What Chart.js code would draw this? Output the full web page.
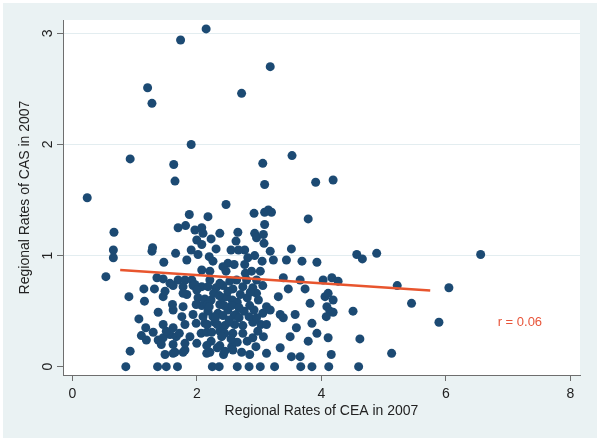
<!DOCTYPE html>
<html><head><meta charset="utf-8">
<script src="https://cdn.jsdelivr.net/npm/chart.js@4.4.0/dist/chart.umd.min.js"></script>
<style>html,body{margin:0;padding:0;background:#fff;}</style>
</head><body>
<canvas id="c" width="601" height="441"></canvas>
<script>
// Regional rates of CEA (x) and CAS (y) in 2007
const ceaRates = [
  2.15,1.74,3.18,1.21,1.28,2.72,1.91,0.93,1.63,1.65,3.06,3.09,3.53,3.91,0.24,4.19,3.15,3.09,3.20,3.79,2.92,2.47,2.18,1.88,0.67,0.66,0.66,0.54,0.91,0.93,1.28,1.29,
  4.57,4.66,4.89,3.93,4.03,4.17,4.27,5.22,4.06,4.11,4.19,3.82,4.09,4.14,4.19,4.08,4.51,3.85,3.93,4.11,4.62,4.16,5.13,6.56,6.05,5.45,5.89,
  0.86,1.37,1.51,1.69,2.25,2.36,2.65,2.84,3.02,3.25,3.67,3.85,4.12,4.60,
  1.15,1.32,1.16,1.38,1.07,1.18,1.11,1.30,1.38,
  1.70,1.82,1.97,2.08,2.00,2.08,2.10,1.66,1.91,2.02,1.47,1.84,2.08,1.46,1.70,1.81,1.92,
  1.62,1.78,1.94,2.08,1.46,1.84,2.02,2.08,1.78,1.62,1.94,1.76,1.46,1.62,1.57,1.46,1.67,1.89,2.07,2.00,1.81,1.62,1.49,1.19,
  3.09,2.37,2.66,2.23,2.63,2.93,2.96,2.31,2.55,2.77,2.20,2.82,2.93,2.26,2.50,2.77,3.05,2.21,2.42,2.47,2.78,2.88,3.02,2.21,2.64,2.80,2.96,
  2.18,2.31,2.42,2.58,2.74,2.90,3.06, 2.13,2.23,2.41,2.57,2.65,2.81,2.99, 2.18,2.34,2.50,2.63,2.76,2.92,3.06, 2.13,2.29,2.45,2.61,2.74,2.90,3.03, 2.16,2.37,2.58,2.74,2.98, 2.23,2.65,2.81, 2.16,2.43,2.72,2.85,
  3.07,3.08,2.67,3.52,3.18,3.23,3.44,3.69,2.60,3.39,3.66,3.74,3.47,2.96,3.12,3.18,3.31,3.34,3.39,3.58,3.12,3.60,3.50,3.07,3.79,3.34,3.12,3.52,3.66,
  1.36,1.57,1.97,2.37,2.53,1.49,1.78,2.00,2.48,1.62,1.81,2.37,2.56,1.51,2.10,2.26,2.42,1.99,2.37,2.56,1.81,1.99,2.52,
  1.72,2.24,2.45,1.43,2.16,1.65,1.78,2.21,2.45,2.60,1.61,2.17,2.17,2.33,
  2.27,2.36,2.50,2.70,2.86,2.20,2.44,2.68,2.85,2.30,2.52,2.68,2.84,2.96,2.40,2.55,2.90,2.33,2.58,2.95
];
const casRates = [
  3.04,2.94,2.70,2.51,2.37,2.46,2.00,1.87,1.82,1.67,1.83,1.64,1.90,1.66,1.52,1.68,1.41,1.39,1.39,1.33,1.38,1.46,1.35,1.37,1.21,1.05,0.98,0.81,0.63,0.14,1.04,1.07,
  1.01,0.97,1.02,0.94,0.78,0.80,0.77,0.73,0.63,0.66,0.60,0.57,0.54,0.50,0.49,0.45,0.50,0.39,0.30,0.26,0.25,0.11,0.12,1.01,0.71,0.57,0.40,
  0,0,0,0,0,0,0,0,0,0,0,0,0,0,
  0.70,0.70,0.59,0.49,0.43,0.35,0.28,0.31,0.24,
  1.25,1.27,1.23,1.25,1.14,1.10,1.20,1.02,1.05,1.01,0.94,0.96,0.87,0.79,0.78,0.78,0.78,
  0.73,0.72,0.73,0.72,0.63,0.65,0.62,0.55,0.54,0.51,0.47,0.45,0.38,0.35,0.29,0.26,0.27,0.27,0.30,0.21,0.15,0.12,0.11,0.24,
  1.28,1.20,1.21,1.15,1.13,1.20,1.16,1.06,1.05,1.05,0.99,0.98,1.00,0.95,0.93,0.92,0.95,0.86,0.90,0.86,0.84,0.86,0.86,0.78,0.78,0.78,0.78,
  0.72,0.71,0.73,0.70,0.72,0.71,0.73, 0.61,0.60,0.62,0.60,0.58,0.62,0.60, 0.50,0.48,0.51,0.47,0.50,0.51,0.48, 0.39,0.40,0.37,0.38,0.37,0.40,0.38, 0.31,0.32,0.30,0.30,0.32, 0.23,0.22,0.23, 0.12,0.11,0.13,0.11,
  1.19,1.11,1.05,1.06,1.04,0.96,0.96,0.95,0.92,0.80,0.78,0.70,0.70,0.66,0.54,0.51,0.63,0.47,0.44,0.47,0.38,0.35,0.27,0.27,0.23,0.17,0.12,0.09,0.09,
  0.80,0.75,0.74,0.75,0.77,0.68,0.66,0.69,0.63,0.20,0.21,0.19,0.18,0.32,0.45,0.45,0.46,0.56,0.56,0.55,0.38,0.39,0.40,
  0.30,0.31,0.30,0.20,0.19,0.13,0.13,0.13,0.14,0.46,0.56,0.56,0.38,0.38,
  0.66,0.64,0.68,0.65,0.67,0.54,0.55,0.53,0.55,0.44,0.42,0.44,0.45,0.44,0.27,0.25,0.26,0.17,0.15,0.18
];
// fitted line end points
const fitX = [0.77, 5.75];
const fitY = [0.87, 0.685];
const xTicks = [0, 2, 4, 6, 8];
const yTicks = [0, 1, 2, 3];
const xTitle = 'Regional Rates of CEA in 2007';
const yTitle = 'Regional Rates of CAS in 2007';
const corrLabel = 'r = 0.06';
const corrAt = [7.19, 0.40];

const FONT = "'Liberation Sans', Arial, Helvetica, sans-serif";
const scatterData = ceaRates.map((x, i) => ({x: x, y: casRates[i]}));
const fitData = fitX.map((x, i) => ({x: x, y: fitY[i]}));

const bgPlugin = {
  id: 'bg',
  beforeDraw(chart) {
    const {ctx, chartArea: a} = chart;
    ctx.save();
    ctx.fillStyle = '#ffffff';
    ctx.fillRect(0, 0, chart.width, chart.height);
    ctx.fillStyle = '#eaf2f3';
    ctx.fillRect(3, 3, chart.width - 7, chart.height - 6);
    ctx.fillStyle = '#ffffff';
    ctx.fillRect(a.left, a.top, a.right - a.left, a.bottom - a.top);
    ctx.restore();
  }
};
const corrPlugin = {
  id: 'corr',
  afterDatasetsDraw(chart) {
    const {ctx, scales} = chart;
    ctx.save();
    ctx.fillStyle = '#e8553a';
    ctx.font = '13px ' + FONT;
    ctx.textAlign = 'center';
    ctx.textBaseline = 'middle';
    ctx.fillText(corrLabel, scales.x.getPixelForValue(corrAt[0]), scales.y.getPixelForValue(corrAt[1]));
    ctx.restore();
  }
};

new Chart(document.getElementById('c'), {
  data: {
    datasets: [
      {type: 'line', data: fitData, borderColor: '#e8552e', borderWidth: 2.6, pointRadius: 0, fill: false, order: 0},
      {type: 'scatter', data: scatterData, backgroundColor: '#1c4a73', borderWidth: 0, pointRadius: 4.5, pointHoverRadius: 4.5, order: 1}
    ]
  },
  options: {
    responsive: false,
    animation: false,
    devicePixelRatio: 1,
    layout: {padding: {left: 0, right: 21, top: 20, bottom: 0}},
    plugins: {legend: {display: false}, tooltip: {enabled: false}},
    scales: {
      x: {
        type: 'linear', min: -0.149, max: 8.156,
        afterBuildTicks: ax => { ax.ticks = xTicks.map(v => ({value: v})); },
        afterFit: ax => { ax.height = 66; },
        grid: {drawOnChartArea: false, tickLength: 6, tickColor: '#6e6e6e'},
        border: {color: '#6e6e6e', width: 1},
        ticks: {font: {family: FONT, size: 14}, color: '#222', padding: 5, maxRotation: 0},
        title: {display: true, text: xTitle, font: {family: FONT, size: 14}, color: '#222', padding: {top: 0, bottom: 21}}
      },
      y: {
        type: 'linear', min: -0.0748, max: 3.12,
        afterBuildTicks: ax => { ax.ticks = yTicks.map(v => ({value: v})); },
        afterFit: ax => { ax.width = 63; },
        grid: {color: c => (c.tick && c.tick.value === 0) ? 'rgba(0,0,0,0)' : '#e3edf0', tickLength: 6, tickColor: '#6e6e6e'},
        border: {color: '#6e6e6e', width: 1},
        ticks: {font: {family: FONT, size: 14}, color: '#222', padding: 5, minRotation: 90, maxRotation: 90, crossAlign: 'center'},
        title: {display: true, text: yTitle, font: {family: FONT, size: 14}, color: '#222', padding: {top: 17, bottom: 0}}
      }
    }
  },
  plugins: [bgPlugin, corrPlugin]
});
</script>
</body></html>
